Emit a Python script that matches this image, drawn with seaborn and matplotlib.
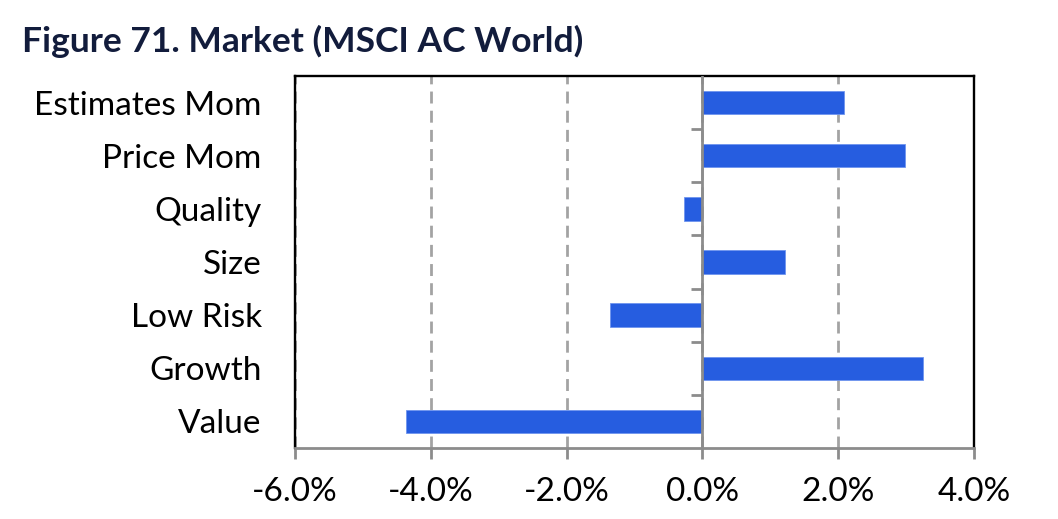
import matplotlib
matplotlib.use("Agg")
import matplotlib.pyplot as plt
import seaborn as sns
import pandas as pd
from matplotlib.ticker import FuncFormatter

# values (%)
categories = ["Estimates Mom", "Price Mom", "Quality", "Size", "Low Risk", "Growth", "Value"]
returns = [2.08, 2.99, -0.27, 1.21, -1.36, 3.25, -4.36]
x_ticks = [-6, -4, -2, 0, 2, 4]

df = pd.DataFrame({"factor": categories, "ret": returns})

sns.set_theme(style="white")
plt.rcParams["font.family"] = ["Lato", "DejaVu Sans"]

fig = plt.figure(figsize=(10.58, 5.19), dpi=100)
ax = fig.add_axes([0.2788, 0.1368, 0.9206 - 0.2788, 0.8536 - 0.1368])

sns.barplot(data=df, x="ret", y="factor", orient="h", color="#265de0",
            saturation=1, width=0.44, edgecolor="#6f95ee", linewidth=0.6, ax=ax)

ax.set_xlim(-6, 4)
ax.set_ylim(len(categories) - 0.5, -0.5)
ax.set_xticks(x_ticks)
ax.xaxis.set_major_formatter(FuncFormatter(lambda v, p: f"{v:.1f}%"))

# dashed gridlines
ax.grid(axis="x", color="#a3a3a3", linewidth=2.0, linestyle=(0, (4.3, 2.6)))
ax.grid(axis="y", visible=False)
ax.set_axisbelow(True)

# vertical axis line at zero with ticks between categories
ax.axvline(0, color="#8c8c8c", linewidth=2.0, zorder=3)
bounds = [i + 0.5 for i in range(len(categories) - 1)]
ax.hlines(bounds, -0.17, 0, color="#8c8c8c", linewidth=2.0, zorder=3)

for side in ["left", "top", "right"]:
    ax.spines[side].set_color("black")
    ax.spines[side].set_linewidth(1.7)
ax.spines["bottom"].set_color("#8c8c8c")
ax.spines["bottom"].set_linewidth(2.0)

ax.tick_params(axis="x", which="major", bottom=True, length=8, width=2.0,
               color="#8c8c8c", labelsize=24, pad=13, labelcolor="black")
ax.tick_params(axis="y", length=0, labelsize=24, pad=24, labelcolor="black")
ax.set_xlabel("")
ax.set_ylabel("")

fig.text(0.021, 0.9, "Figure 71. Market (MSCI AC World)", fontsize=25.5,
         fontweight="bold", color="#121c3c", ha="left", va="baseline")

fig.savefig("out.png", dpi=100, facecolor="white")
